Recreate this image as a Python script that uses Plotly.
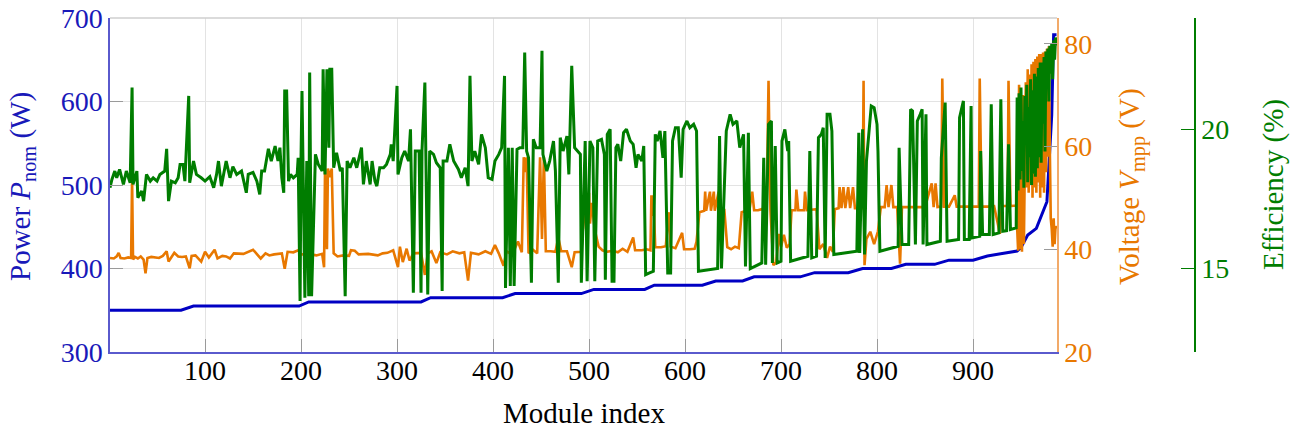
import plotly.graph_objects as go

# ---------------- data (module index -> value) ----------------
power_idx = [1, 75, 88, 198, 208, 325, 335, 410, 423, 492, 505, 558, 568, 618, 632, 660, 672,
             720, 735, 770, 785, 815, 830, 860, 875, 900, 915, 940, 946, 950, 957, 966, 973,
             977, 982, 984, 987]
power_w = [350, 350, 355, 355, 360, 360, 365, 365, 370, 370, 375, 375, 380, 380, 385, 385, 390,
           390, 395, 395, 400, 400, 405, 405, 410, 410, 415, 420, 421, 425, 440, 448, 468,
           480, 584, 680, 680]

volt_idx = [1, 5, 8, 10, 12, 16, 20, 23, 24, 25, 27, 30, 33, 36, 38, 40, 44, 48, 52, 56, 60, 62,
            65, 68, 72, 76, 80, 84, 86, 90, 96, 100, 104, 110, 113, 118, 122, 126, 130, 135, 140,
            150, 155, 158, 163, 167,
            172, 180, 183, 186, 192, 197, 200, 210, 216, 222, 224, 225, 227, 228, 230, 232, 234,
            238, 244, 250, 252, 256, 260, 270, 280, 285, 290, 296, 301, 303, 306, 310, 313, 317,
            325, 329, 332,
            336, 341, 345, 352, 358, 365, 370, 374, 377, 385, 392, 398, 402, 406, 411, 414, 420,
            426, 430, 432, 434, 435, 437, 441, 446, 449, 451, 453, 455, 460, 465, 468, 471, 477,
            482, 485, 492,
            496, 497, 498, 500, 501, 503, 506, 510, 514, 518, 525, 530, 535, 540, 546, 548, 555,
            560, 564, 565, 566, 567, 569, 575, 580, 583, 585, 590, 597, 599, 605, 610, 612, 615,
            620, 621, 622, 626, 627, 630, 631, 635, 636, 641, 644, 648, 652, 656, 659, 664, 666,
            667,
            670, 672, 676, 680, 685, 687, 689, 692, 695, 698, 700, 703, 706, 709, 711, 715, 716,
            718, 724, 725, 727, 733, 737, 740, 744, 748, 751, 754, 756, 760, 761, 763, 765, 767,
            770, 772, 775, 777, 782, 785, 786, 787, 789, 793, 797, 801, 804, 808, 810, 812, 815,
            817, 821, 824, 826,
            830, 840, 850, 857, 859, 861, 863, 867, 868, 870, 875, 881, 883, 890, 900, 906, 907,
            909, 915, 922, 928, 930, 936, 937, 939, 945,
            947, 948, 949, 950, 951, 952, 953, 954, 955, 956, 957, 958, 959, 960, 961, 962, 963,
            964, 965, 966, 967, 968, 969, 970, 971, 972, 973, 974, 975, 976, 977, 978, 979, 980,
            981, 982, 983, 984, 985, 986, 987]
volt_v = [38.3, 38.2, 38.6, 39.3, 38.3, 38.2, 38.4, 38.3, 53.8, 38.0, 38.5, 38.2, 38.6, 38.0, 35.3,
          38.3, 38.5, 38.4, 38.3, 38.7, 39.6, 37.6, 38.5, 39.3, 38.6, 38.5, 38.6, 36.3, 38.7, 38.8,
          37.6, 39.5, 38.4, 39.9, 38.2, 38.7, 38.6, 38.2, 39.2, 39.2, 39.1, 39.9, 38.8, 38.2, 39.2,
          38.8,
          39.0, 39.2, 36.2, 39.5, 39.4, 39.8, 39.0, 39.0, 38.8, 39.1, 36.5, 55.7, 40.0, 55.7, 54.0,
          55.7, 39.2, 38.6, 38.8, 38.7, 39.8, 39.7, 39.0, 39.1, 38.8, 39.2, 39.3, 39.8, 36.5, 40.5,
          37.5, 40.1, 37.8, 39.2, 39.3, 35.0, 39.2,
          39.6, 37.3, 39.4, 39.0, 39.6, 39.2, 39.4, 33.9, 39.3, 39.0, 39.6, 39.1, 40.8, 39.2, 36.8,
          39.6, 39.0, 41.5, 39.4, 57.9, 55.0, 57.9, 39.2, 40.0, 39.2, 57.9, 42.0, 57.9, 39.6, 39.6,
          39.5, 42.3, 39.6, 39.6, 36.5, 39.4, 39.5,
          50.5, 44.0, 47.5, 51.0, 45.0, 49.0, 43.8, 40.5, 39.8, 39.5, 39.7, 39.4, 40.1, 39.5, 42.3,
          39.8, 39.8, 40.0, 39.8, 50.5, 46.5, 50.5, 40.4, 40.4, 40.6, 47.2, 40.5, 40.2, 43.2, 40.0,
          40.0, 40.1, 41.5, 47.2, 47.5, 51.2, 47.5, 51.2, 47.5, 51.2, 47.5, 51.2, 47.5, 47.6, 40.4,
          40.0, 40.5, 40.2, 47.2, 47.5, 51.0, 47.5,
          51.2, 47.6, 47.6, 47.8, 47.6, 72.8, 47.6, 36.9, 37.5, 43.0, 40.5, 42.8, 40.3, 41.0, 47.6,
          47.6, 51.6, 47.6, 47.6, 51.2, 47.6, 47.8, 47.8, 40.0, 41.0, 38.3, 40.5, 39.5, 47.8, 48.0,
          52.1, 48.0, 52.1, 48.0, 52.1, 48.0, 52.1, 48.0, 48.0, 48.0, 72.8, 36.9, 42.0, 43.4, 41.0,
          43.5, 48.2, 48.2, 52.5, 48.2, 52.5, 48.2, 48.2, 37.2, 48.2,
          48.2, 48.3, 48.2, 52.8, 48.2, 52.8, 48.2, 48.3, 73.2, 48.3, 48.3, 50.5, 48.3, 48.3, 48.3,
          48.3, 73.2, 48.3, 48.3, 48.4, 43.0, 48.4, 48.4, 72.8, 48.4, 48.5,
          39.7, 72.0, 40.0, 65.0, 39.5, 70.0, 41.0, 60.0, 72.5, 52.0, 75.0, 51.0, 74.0, 55.0, 76.0,
          50.0, 76.5, 52.0, 77.0, 51.0, 77.5, 53.0, 78.0, 50.0, 78.0, 52.0, 78.3, 51.0, 78.5, 55.0,
          79.0, 58.0, 79.5, 60.0, 46.0, 44.0, 40.5, 46.0, 41.0, 44.5, 44.0]

eff_idx = [1, 3, 6, 8, 11, 15, 18, 22, 24, 25, 29, 30, 34, 36, 39, 43, 46, 50, 53, 58, 60, 62, 65,
           69, 72, 74, 77, 79, 83, 84, 88, 91, 96, 100, 105, 109, 112, 114, 117, 122, 126, 129,
           133, 138, 143, 145, 150, 154, 157, 159, 162, 166,
           169, 173, 176, 178, 180, 182, 183, 185, 187, 189, 192, 196, 197, 199, 200, 201, 204,
           206, 208, 209, 211, 215, 218, 222, 223, 225, 227, 229, 230, 232, 234, 237, 241, 243,
           246, 248, 251, 255, 258, 262, 263, 265, 268, 272, 274, 277, 279, 282, 286, 289, 293,
           294, 296, 300, 301, 305, 308, 312, 314, 317, 319, 323, 325, 326, 329,
           332, 334, 338, 341, 345, 347, 348, 352, 355, 359, 364, 367, 371, 374, 376, 378, 381,
           385, 388, 392, 395, 399, 402, 406, 409, 412, 413, 416, 418, 420, 422, 425, 428, 431,
           433, 435, 437, 440, 442, 445, 449, 451, 452, 456, 459, 463, 465, 468, 470, 473, 477,
           479, 482, 485, 488, 491, 492,
           496, 498, 501, 504, 506, 509, 513, 516, 517, 519, 522, 524, 526, 528, 530, 533, 536,
           539, 543, 546, 549, 551, 555, 557, 559, 563, 567, 569, 571, 574, 577, 579, 582, 585,
           587, 590, 593, 596, 598, 602, 605, 609, 612, 614, 624, 634, 636, 638, 643, 647, 650,
           654, 657, 661, 663,
           666, 668, 680, 682, 684, 687, 690, 691, 694, 696, 700, 701, 704, 707, 708, 710, 728,
           730, 732, 737, 739, 742, 744, 746, 748, 751, 753, 755, 779, 781, 782, 785, 787, 789,
           792, 794, 797, 800, 801, 803, 822, 823, 826, 833,
           835, 837, 840, 842, 845, 847, 848, 851, 852, 866, 867, 871, 873, 885, 886, 890, 891,
           896, 898, 899, 907, 908, 910, 917, 919, 921, 927, 929, 931, 935, 937, 939, 945, 946,
           947, 948, 949, 950, 951, 952, 953, 954, 955, 956, 957, 958, 959, 960, 961, 962, 963,
           964, 965, 966, 967, 968, 969, 970, 971, 972, 973, 974, 975, 976, 977, 978, 979, 980,
           981, 982, 983, 984, 985, 986, 987]
eff_pct = [17.9, 18.2, 18.5, 18.26, 18.56, 18.02, 18.5, 18.08, 21.5, 18.02, 18.5, 17.54, 17.78,
           17.42, 18.38, 18.14, 18.26, 18.14, 18.38, 18.5, 19.3, 17.42, 18.14, 18.08, 18.26, 18.74,
           18.74, 18.14, 21.2, 18.08, 18.86, 18.38, 18.26, 18.14, 18.3, 17.9, 18.38, 18.86, 17.96,
           18.86, 18.26, 18.66, 18.38, 18.5, 17.72, 18.38, 18.45, 18.14, 17.66, 18.5, 18.5, 19.3,
           18.86, 19.4, 18.86, 19.34, 18.26, 17.72, 21.38, 21.38, 18.14, 18.38, 18.26, 18.38,
           18.98, 13.83, 18.98, 21.38, 13.95, 18.86, 14.0, 22.04, 14.0, 19.1, 18.74, 18.5, 22.16,
           18.38, 22.16, 19.34, 22.16, 22.16, 18.62, 19.16, 18.5, 18.62, 14.0, 18.86, 18.62, 18.98,
           18.62, 19.22, 19.34, 18.02, 18.86, 18.02, 18.86, 18.14, 17.96, 18.62, 18.62, 18.74,
           19.1, 19.46, 18.86, 21.56, 18.38, 18.98, 19.22, 18.86, 20.0, 14.13, 19.22, 19.22, 14.13,
           19.22, 21.68,
           14.07, 19.22, 19.1, 18.8, 18.62, 14.19, 18.86, 18.86, 19.46, 18.86, 18.56, 18.26, 18.62,
           17.96, 21.92, 18.86, 19.22, 18.74, 19.82, 19.34, 18.26, 18.2, 18.86, 19.1, 19.34, 21.92,
           14.3, 19.34, 14.37, 19.34, 14.37, 19.28, 19.34, 19.34, 22.76, 19.22, 18.98, 14.49,
           19.64, 19.34, 19.34, 22.82, 19.1, 18.5, 18.86, 19.58, 18.5, 14.49, 19.7, 19.22, 19.76,
           18.38, 22.28, 19.34, 19.22, 19.1, 14.49,
           19.58, 14.54, 19.58, 19.34, 14.54, 19.58, 19.64, 19.1, 14.6, 19.82, 20.0, 14.54, 14.54,
           19.34, 19.46, 18.86, 19.88, 20.0, 19.58, 19.46, 18.62, 19.1, 18.86, 19.4, 14.78, 14.84,
           14.9, 19.82, 19.58, 19.94, 18.98, 19.94, 14.84, 14.84, 19.58, 20.06, 20.06, 18.26,
           20.0, 20.3, 20.06, 20.18, 19.94, 14.9, 14.96, 15.0, 19.76, 15.0, 19.94, 20.54, 20.18,
           20.3, 19.34, 19.82, 15.07,
           19.88, 15.0, 15.2, 18.98, 15.14, 20.18, 20.3, 15.2, 19.4, 15.2, 15.26, 19.58, 20.0, 19.22,
           19.58, 15.26, 15.44, 19.22, 15.38, 15.44, 19.7, 19.82, 20.06, 15.38, 20.54, 20.54, 19.94,
           15.5, 15.62, 19.88, 15.56, 20.0, 15.5, 18.86, 20.06, 20.84, 20.78, 20.18, 19.22, 15.62,
           15.8, 19.34, 15.86, 15.86,
           20.72, 20.66, 15.86, 20.3, 20.54, 20.72, 15.86, 20.54, 15.86, 15.98, 18.98, 20.96, 15.98,
           16.04, 20.42, 21.02, 16.04, 16.04, 20.84, 16.1, 16.16, 19.22, 16.22, 16.22, 20.9, 16.22,
           16.28, 21.08, 16.34, 16.36, 19.46, 16.4, 16.46, 21.14,
           17.8, 21.3, 18.2, 21.5, 18.5, 20.3, 17.9, 21.2, 19.5, 21.6, 18.1, 20.8, 19.0, 21.8, 18.0,
           21.4, 18.4, 22.0, 18.3, 21.9, 18.6, 22.2, 19.0, 22.4, 18.8, 22.4, 20.2, 22.6, 19.2, 22.8,
           21.5, 22.9, 21.0, 23.0, 22.0, 23.1, 21.8, 23.2, 22.5, 23.3, 23.0]

x_ticks = [100, 200, 300, 400, 500, 600, 700, 800, 900]
power_ticks = [300, 400, 500, 600, 700]
volt_ticks = [20, 40, 60, 80]
eff_ticks = [15, 20]

# ---------------- styling ----------------
BLUE = "rgb(0,0,195)"
BLUE_TXT = "rgb(25,25,185)"
ORANGE = "rgb(232,120,0)"
GREEN = "rgb(0,125,0)"
FONT = "Liberation Serif"
W, H = 1297, 433
L, R, T, B = 110, 102, 18, 81
plot_right = 1057
xdom = (plot_right - L) / (W - L - R)

fig = go.Figure()
fig.add_trace(go.Scatter(x=power_idx, y=power_w, mode="lines",
                         line=dict(color=BLUE, width=3), yaxis="y", showlegend=False))
fig.add_trace(go.Scatter(x=volt_idx, y=volt_v, mode="lines",
                         line=dict(color=ORANGE, width=2.6), yaxis="y2", showlegend=False))
fig.add_trace(go.Scatter(x=eff_idx, y=eff_pct, mode="lines",
                         line=dict(color=GREEN, width=3), yaxis="y3", showlegend=False))

TICK_SIZE = 28
TITLE_SIZE = 29

fig.update_layout(
    template="none",
    width=W, height=H,
    margin=dict(l=L, r=R, t=T, b=B, pad=0, autoexpand=False),
    plot_bgcolor="white", paper_bgcolor="white",
    xaxis=dict(domain=[0, xdom], range=[1, 987.5], tickvals=x_ticks, automargin=False,
               ticks="inside", ticklen=13, tickcolor="#9a9a9a", tickwidth=1,
               ticklabelstandoff=-7,
               showgrid=True, gridcolor="#e3e3e3", gridwidth=1,
               showline=True, linecolor="rgb(90,90,205)", linewidth=1.5,
               zeroline=False, tickfont=dict(family=FONT, size=TICK_SIZE, color="black")),
    yaxis=dict(range=[300, 700], tickvals=power_ticks, automargin=False,
               ticks="inside", ticklen=13, tickcolor="#9a9a9a",
               showgrid=True, gridcolor="#e3e3e3", gridwidth=1,
               showline=True, linecolor="rgb(90,90,205)", linewidth=1.5,
               zeroline=False, tickfont=dict(family=FONT, size=TICK_SIZE, color=BLUE_TXT)),
    yaxis2=dict(range=[20, 85], tickvals=volt_ticks, overlaying="y", side="right",
                anchor="x", ticks="inside", ticklen=13, tickcolor="#9a9a9a", automargin=False,
                showgrid=False, showline=True, linecolor="rgb(242,170,105)", linewidth=1.5,
                zeroline=False, tickfont=dict(family=FONT, size=TICK_SIZE, color=ORANGE)),
    yaxis3=dict(range=[12, 24], tickvals=eff_ticks, overlaying="y", side="right",
                anchor="free", position=1.0, ticks="inside", ticklen=13, tickcolor=GREEN,
                automargin=False,
                showgrid=False, showline=True, linecolor=GREEN, linewidth=1.5,
                zeroline=False, tickfont=dict(family=FONT, size=TICK_SIZE, color=GREEN)),
    shapes=[dict(type="line", xref="paper", yref="paper", x0=0, x1=xdom, y0=1, y1=1,
                 line=dict(color="#cfcfcf", width=1.5))],
    annotations=[
        dict(text="Module index", x=(L + plot_right) / 2, y=413,
             showarrow=False, font=dict(family=FONT, size=TITLE_SIZE, color="black")),
        dict(text="Power <i>P</i><sub>nom</sub> (W)", x=22, y=186, textangle=-90,
             showarrow=False, font=dict(family=FONT, size=TITLE_SIZE, color=BLUE_TXT)),
        dict(text="Voltage <i>V</i><sub>mpp</sub> (V)", x=1131, y=187, textangle=-90,
             showarrow=False, font=dict(family=FONT, size=TITLE_SIZE, color=ORANGE)),
        dict(text="Efficiency (%)", x=1273, y=185, textangle=-90,
             showarrow=False, font=dict(family=FONT, size=TITLE_SIZE, color=GREEN)),
    ],
)

# convert annotation pixel positions to paper coordinates
pw = W - L - R
ph = H - T - B
for a in fig.layout.annotations:
    px, py = a.x, a.y
    a.x = (px - L) / pw
    a.y = 1 - (py - T) / ph
    a.xref = "paper"
    a.yref = "paper"
    a.xanchor = "center"
    a.yanchor = "middle"

fig.write_html("out.html")
